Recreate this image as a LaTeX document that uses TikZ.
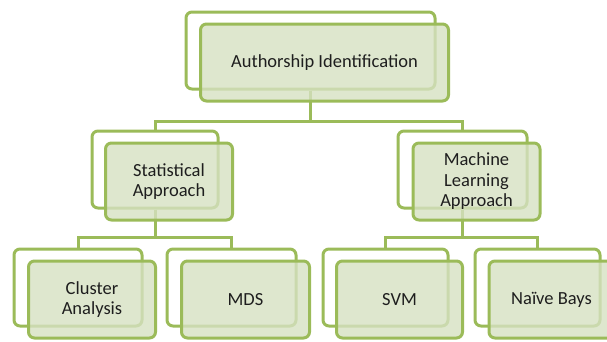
\documentclass[tikz,border=0pt]{standalone}
\usepackage{fontspec}
\setmainfont{Carlito}
\usetikzlibrary{positioning}
\definecolor{olive}{HTML}{9BBB59}
\definecolor{pale}{HTML}{D6E1C2}
\definecolor{ink}{HTML}{1E1E1E}

\begin{document}
\begin{tikzpicture}
	[%
	x=1pt, y=-1pt,%
	back/.style ={rectangle,	rounded corners=6pt,	draw=olive,	fill=white,	line width=3pt,	inner sep=0pt,	minimum height=77pt},%
	front/.style={rectangle,	rounded corners=6pt,	draw=olive,	fill=pale,	fill opacity=0.8,	text opacity=1,	line width=3pt,	inner sep=0pt,	minimum height=77pt,	text=ink,	align=center,	font=\fontsize{18.5}{20.5}\selectfont},%
	link/.style ={draw=olive,	line width=3pt},%
	]

	\newcommand\busone{121}
	\newcommand\bustwo{237}

	\useasboundingbox (0,0) rectangle (607,341);
	\clip (0,0) rectangle (607,341);

	% back boxes
	\foreach \n/\x/\y/\w in {	0/310.5/50.5/249, 1/155/169.5/126, 2/462.5/169.5/129, %
												3/78/287.5/128, 4/231.5/287.5/129, 5/385.5/287.5/125, 6/537.5/287.5/125%
												}
			\node (box\n) at (\x,\y) [back, minimum width=\w pt] {};

	% interconnections
	\foreach \i/\o/\b in {0/1/\busone, 0/2/\busone, 1/3/\bustwo, 1/4/\bustwo, 2/5/\bustwo, 2/6/\bustwo}
		\draw [link] (box\i.south) -- (box\i.south |- 0,\b) -| (box\o.north);

	% front boxes
	\foreach \n/\w/\txt in {	0/248/{Authorship Identification}, 1/127/{Statistical\\Approach}, %
												2/127/{Machine\\Learning\\Approach}, 3/127/{Cluster\\Analysis}, %
												4/128/{MDS}, 5/126/{SVM}, 6/125/{Naïve Bays}%
												}
			\node (label\n) at ([shift={(14,12)}]box\n.center) [front, minimum width=\w pt] {\txt};

\end{tikzpicture}
\end{document}
